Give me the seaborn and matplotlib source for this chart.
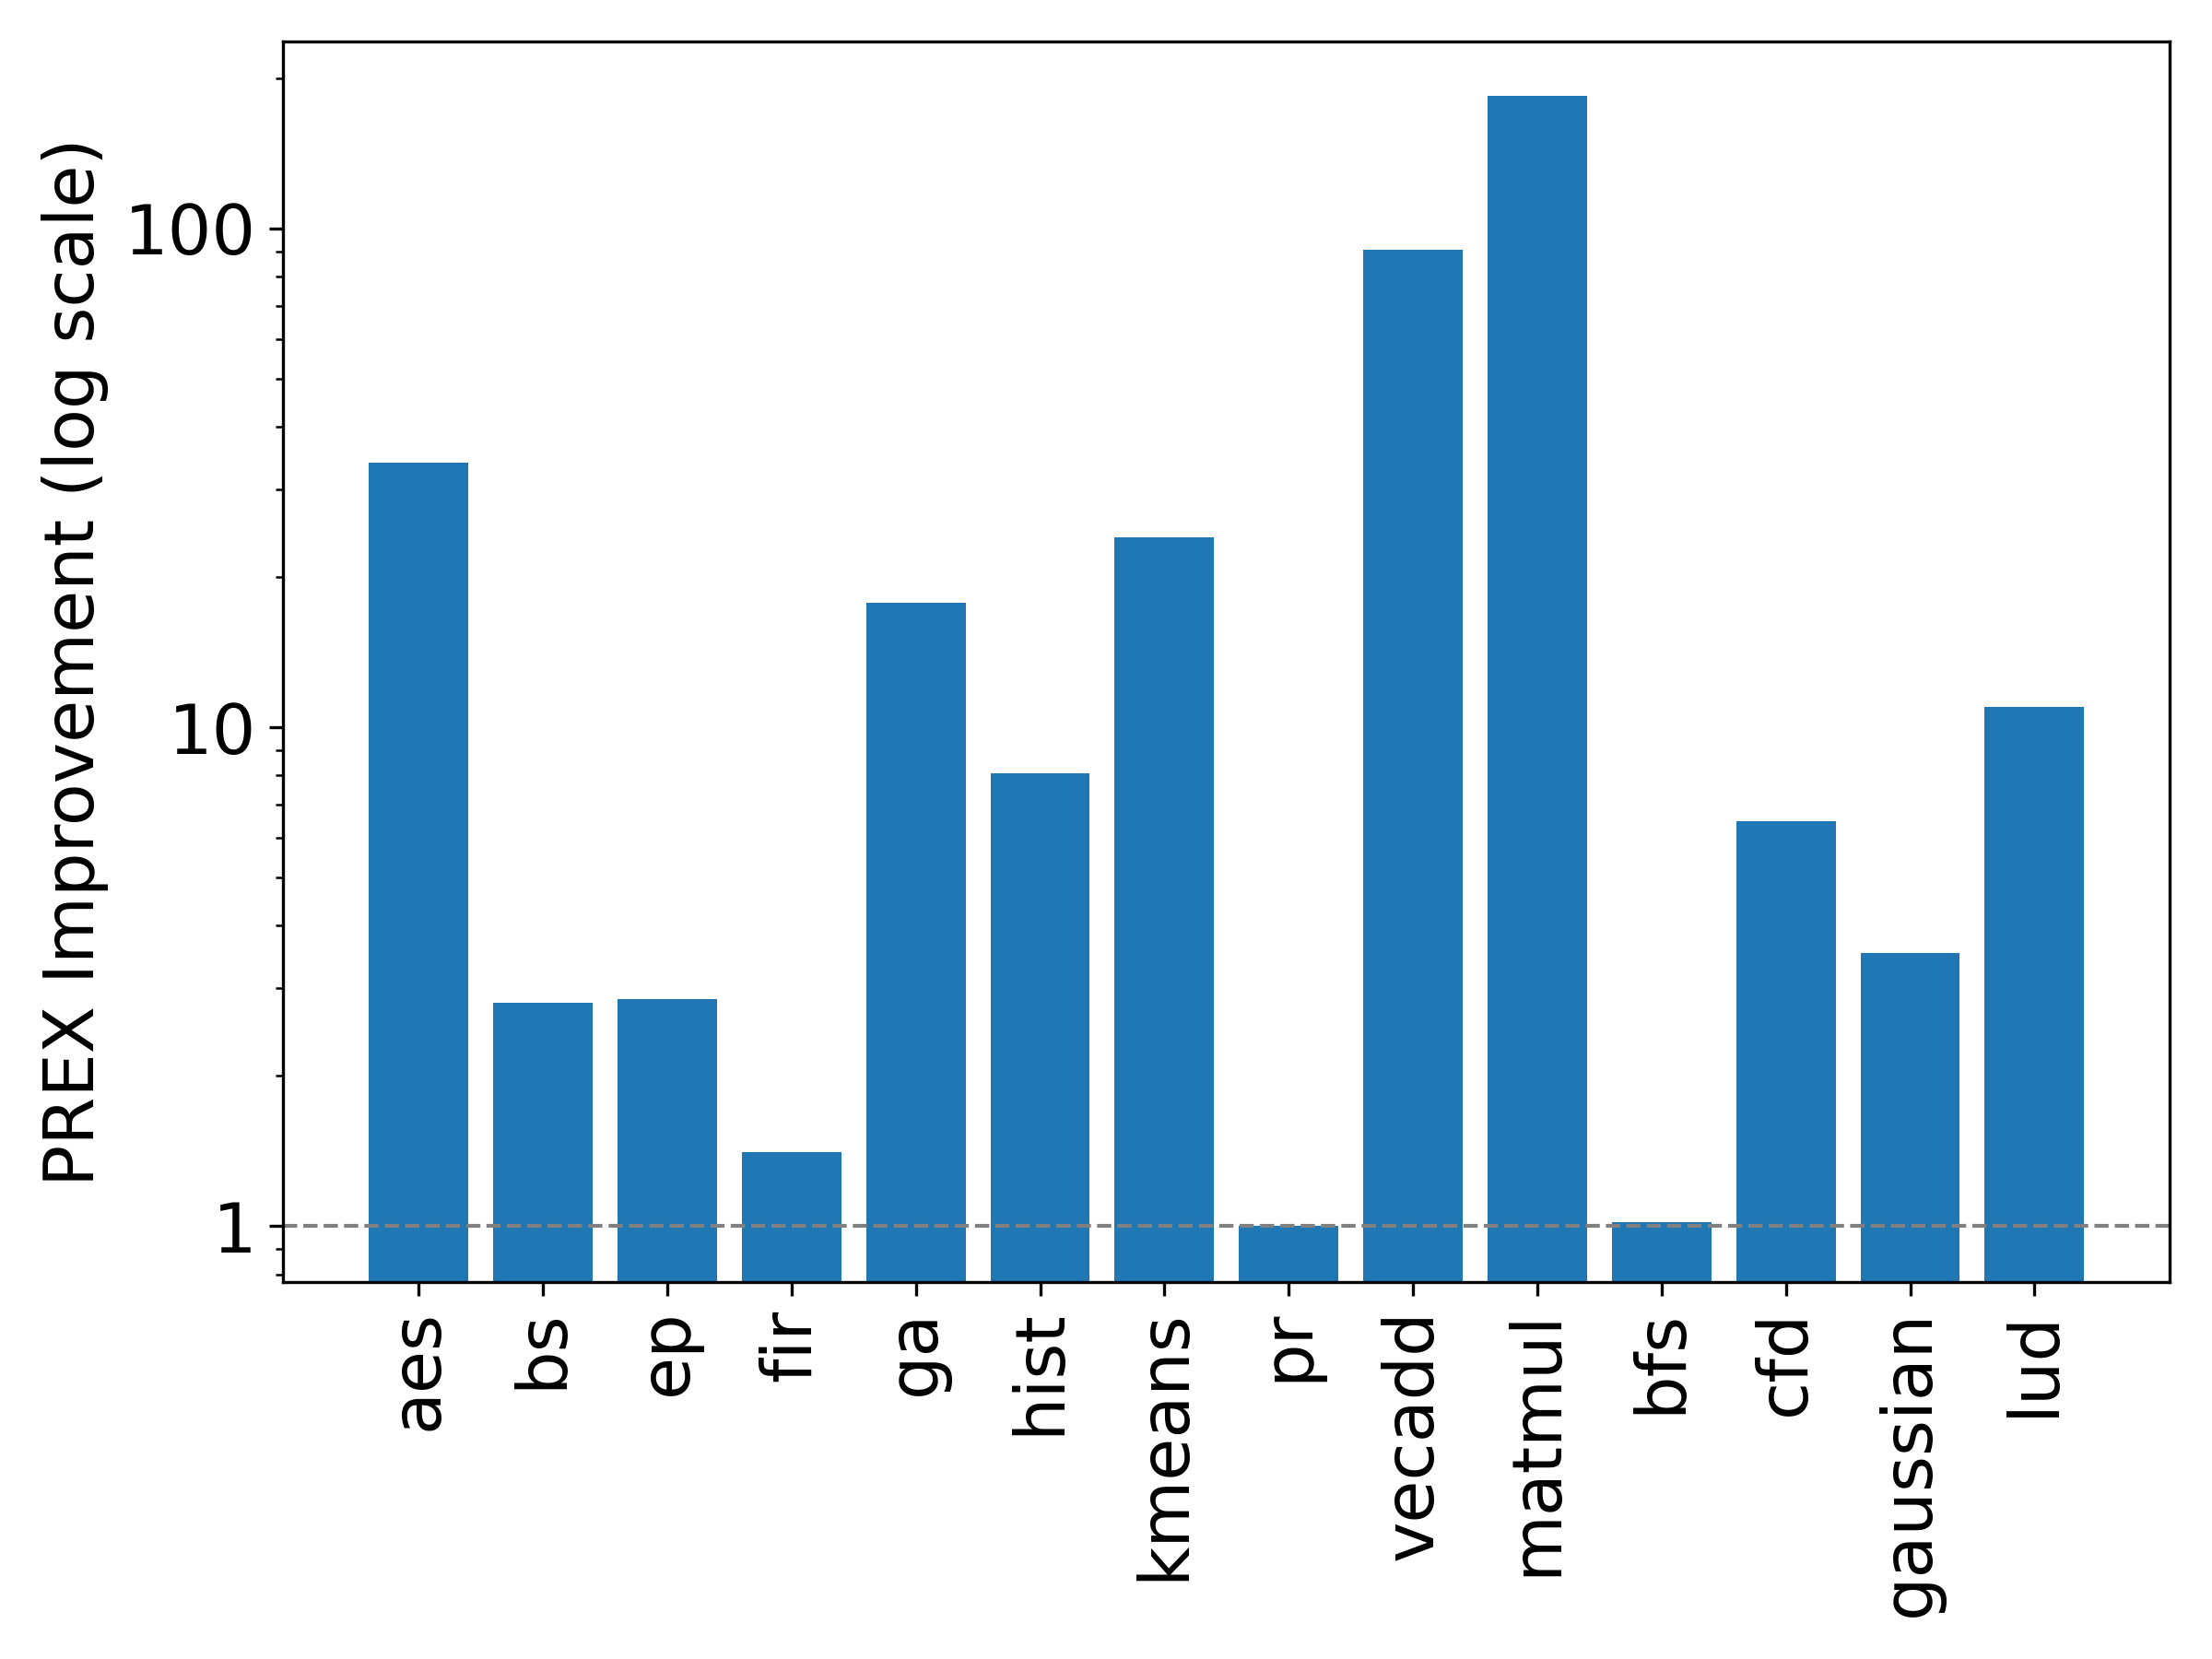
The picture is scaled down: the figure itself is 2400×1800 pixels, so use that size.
from matplotlib import pyplot as plt
from matplotlib.ticker import ScalarFormatter, NullFormatter
import seaborn as sns

benchmarks = ['aes', 'bs', 'ep', 'fir', 'ga', 'hist', 'kmeans', 'pr',
              'vecadd', 'matmul', 'bfs', 'cfd', 'gaussian', 'lud']
improvement = [33.9, 2.80, 2.85, 1.41, 17.8, 8.09, 24.0, 1.0,
               90.7, 184.5, 1.02, 6.48, 3.52, 11.0]

plt.rcParams['font.family'] = ['DejaVu Sans']
plt.rcParams['font.size'] = 18

fig, ax = plt.subplots(figsize=(8, 6), dpi=300)
fig.subplots_adjust(left=0.128, right=0.981, bottom=0.227, top=0.975)

sns.barplot(x=benchmarks, y=improvement, color='#1f77b4', saturation=1,
            width=0.8, linewidth=0, ax=ax)

ax.set_yscale('log')
ax.set_ylim(0.771, 237)
ax.set_xlim(-1.09, len(benchmarks) - 1 + 1.09)
ax.yaxis.set_major_formatter(ScalarFormatter())
ax.yaxis.set_minor_formatter(NullFormatter())

# baseline at 1x
ax.axhline(1, color='gray', linestyle='--', linewidth=1)

ax.set_ylabel('PREX Improvement (log scale)', fontsize=18)
ax.tick_params(axis='both', labelsize=18)
plt.xticks(rotation=90)

plt.savefig('out.png', dpi=300)
